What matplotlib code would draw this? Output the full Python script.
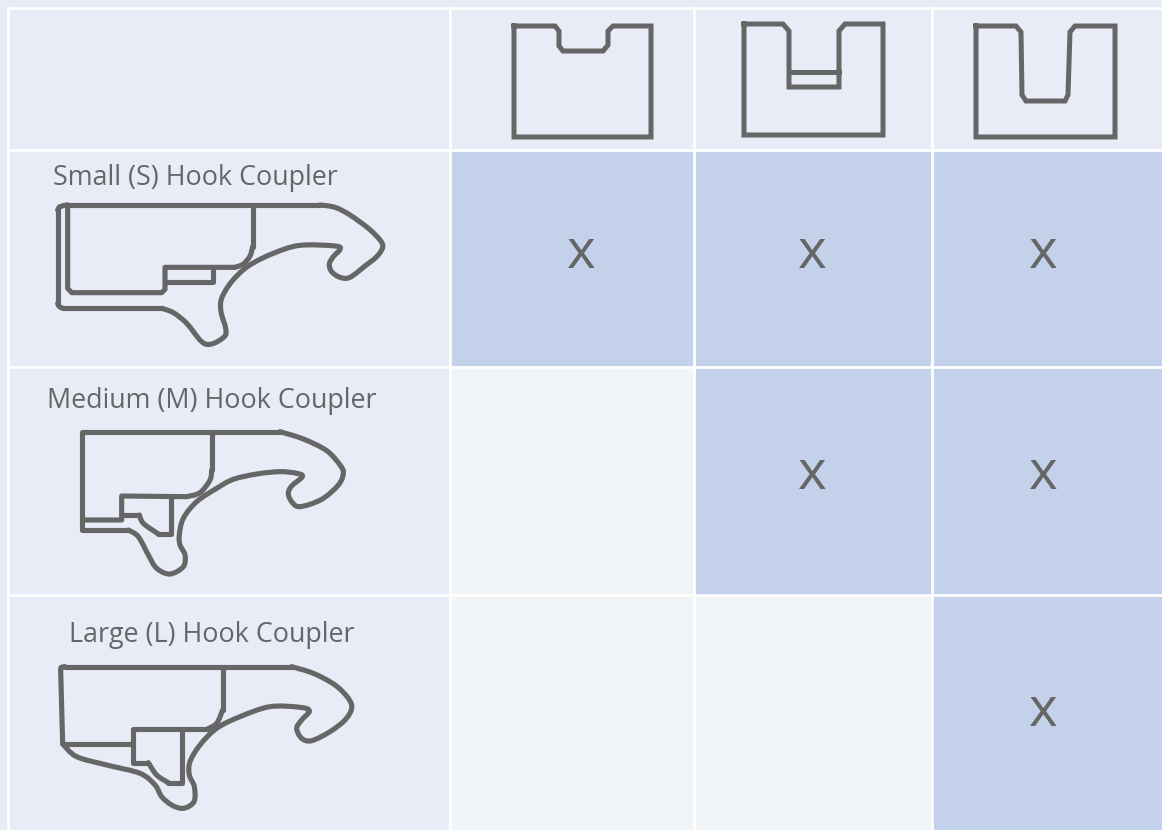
import numpy as np
from matplotlib import pyplot as plt
from matplotlib.path import Path
from matplotlib.patches import PathPatch, Rectangle

couplers = ["Small (S) Hook Coupler", "Medium (M) Hook Coupler", "Large (L) Hook Coupler"]
fits = [[1, 1, 1],
        [0, 1, 1],
        [0, 0, 1]]

col_edges = [8, 450, 694, 932, 1162]
row_edges = [8, 150, 367, 595, 830]
label_pos = [(53, 178), (47, 401), (69, 635)]
x_pos = [581, 812, 1043]
x_rows = [268, 489, 726]

LINE = "#666666"
HEAD = "#e8ecf7"
BLUE = "#c3d1ea"
EMPTY = "#f2f5f7"

# header slots, picture pixels
slot_a = [(514, 26), (555, 26), (559, 31), (559, 46), (563, 51), (603, 51), (608, 45), (608, 31),
          (613, 26), (651, 26), (651, 137), (514, 137), (514, 26)]
slot_b = [(744, 24), (783, 24), (789, 31), (789, 87), (839, 87), (839, 31), (845, 24),
          (883, 24), (883, 135), (744, 135), (744, 24)]
slot_b_bar = [(789, 72), (839, 72)]
slot_c = [(976, 26), (1016, 26), (1021, 32), (1022, 95), (1026, 101), (1065, 101), (1068, 95),
          (1070, 32), (1075, 26), (1115, 26), (1115, 137), (976, 137), (976, 26)]

small_origin = (40, 160)
small_lines = [[(840, 135), (80, 135)],
               [(53, 150), (53, 430)],
               [(70, 445), (365, 445)],
               [(83, 135), (83, 385), (95, 398), (365, 398), (375, 388), (375, 322), (585, 322)],
               [(638, 135), (638, 260)],
               [(375, 365), (520, 365), (520, 322)]]
small_curves = [[(840, 135), (885, 142), (930, 165), (985, 205), (1020, 240), (1028, 262), (1010, 290), (975, 318),
                 (930, 352), (900, 352), (875, 335), (868, 312), (880, 290), (900, 268), (885, 258), (780, 256),
                 (700, 280), (625, 318), (575, 365), (545, 415), (543, 455), (557, 505), (553, 530), (515, 552),
                 (485, 545), (440, 490), (400, 458), (365, 445)],
                [(80, 135), (60, 140), (53, 150)],
                [(53, 430), (58, 440), (70, 445)],
                [(585, 322), (610, 312), (630, 288), (638, 260)]]

medium_origin = (40, 380)
medium_lines = [[(720, 155), (125, 155), (125, 450), (265, 450)],
                [(130, 420), (245, 420), (245, 348), (440, 350)],
                [(515, 155), (515, 270)],
                [(245, 405), (298, 405)],
                [(355, 462), (393, 462), (393, 350)]]
medium_curves = [[(720, 155), (790, 177), (860, 212), (900, 255), (910, 280), (895, 315), (845, 358), (780, 380),
                  (755, 365), (745, 340), (755, 318), (787, 290), (770, 280), (720, 275), (650, 282), (580, 298),
                  (530, 325), (470, 365), (430, 415), (418, 465), (420, 495), (435, 525), (430, 560), (390, 582),
                  (350, 565), (325, 525), (295, 470), (265, 450)],
                 [(440, 350), (480, 338), (510, 300), (515, 270)],
                 [(298, 405), (310, 430), (355, 462)]]

large_origin = (40, 610)
large_lines = [[(755, 170), (75, 170)],
               [(62, 180), (68, 402)],
               [(72, 402), (278, 402)],
               [(325, 458), (278, 458), (278, 358), (500, 358)],
               [(548, 170), (548, 300)],
               [(385, 518), (427, 518), (427, 358)]]
large_curves = [[(755, 170), (820, 190), (885, 225), (925, 265), (935, 295), (915, 330), (870, 365), (815, 392),
                 (785, 385), (770, 355), (785, 330), (808, 303), (780, 292), (690, 290), (600, 320), (530, 355),
                 (480, 405), (450, 455), (448, 495), (463, 530), (462, 575), (430, 595), (395, 585),
                 (365, 560), (345, 525), (300, 490), (200, 465), (110, 440), (68, 402)],
                [(75, 170), (64, 172), (62, 180)],
                [(500, 358), (530, 340), (548, 300)],
                [(325, 458), (350, 495), (385, 518)]]


def to_px(pts, origin):
    return np.array([(origin[0] + x / 3, origin[1] + y / 3) for x, y in pts])


def smooth_path(pts):
    # catmull-rom through the points, as bezier pieces
    pts = np.asarray(pts, dtype=float)
    padded = np.vstack([pts[0], pts, pts[-1]])
    verts = [pts[0]]
    codes = [Path.MOVETO]
    for i in range(1, len(padded) - 2):
        p0, p1, p2, p3 = padded[i - 1], padded[i], padded[i + 1], padded[i + 2]
        verts += [p1 + (p2 - p0) / 6, p2 - (p3 - p1) / 6, p2]
        codes += [Path.CURVE4] * 3
    return Path(verts, codes)


def draw_hook(ax, lines, curves, origin, lw=3.7):
    for seg in lines:
        xy = to_px(seg, origin)
        ax.plot(xy[:, 0], xy[:, 1], color=LINE, lw=lw, solid_joinstyle="round", solid_capstyle="round")
    for seg in curves:
        ax.add_patch(PathPatch(smooth_path(to_px(seg, origin)), fc="none", ec=LINE, lw=lw, capstyle="round"))


fig = plt.figure(figsize=(11.62, 8.30), dpi=100, facecolor=HEAD)
ax = fig.add_axes([0, 0, 1, 1])
ax.set_xlim(0, 1162)
ax.set_ylim(830, 0)
ax.axis("off")

# cells
for r in range(3):
    y0, y1 = row_edges[r + 1], row_edges[r + 2]
    for c in range(3):
        x0, x1 = col_edges[c + 1], col_edges[c + 2]
        ax.add_patch(Rectangle((x0, y0), x1 - x0, y1 - y0, fc=BLUE if fits[r][c] else EMPTY, ec="none"))
        if fits[r][c]:
            ax.text(x_pos[c], x_rows[r], "x", fontsize=39.5, fontfamily="Open Sans", color=LINE,
                    ha="center", va="baseline")
    ax.text(label_pos[r][0], label_pos[r][1], couplers[r], fontsize=19.4, fontfamily="Open Sans", color=LINE,
            ha="left", va="center")

# grid lines
for x in col_edges[:-1]:
    ax.plot([x, x], [7, 830], color="white", lw=2.0, zorder=3, solid_capstyle="butt")
for y in row_edges[:-1]:
    ax.plot([7, 1162], [y, y], color="white", lw=2.0, zorder=3, solid_capstyle="butt")

# header slots
for shape in [slot_a, slot_b, slot_b_bar, slot_c]:
    xy = np.array(shape)
    ax.plot(xy[:, 0], xy[:, 1], color=LINE, lw=3.6, solid_joinstyle="miter", zorder=4)

draw_hook(ax, small_lines, small_curves, small_origin)
draw_hook(ax, medium_lines, medium_curves, medium_origin)
draw_hook(ax, large_lines, large_curves, large_origin)

fig.savefig("out.png", dpi=100, facecolor=fig.get_facecolor())
